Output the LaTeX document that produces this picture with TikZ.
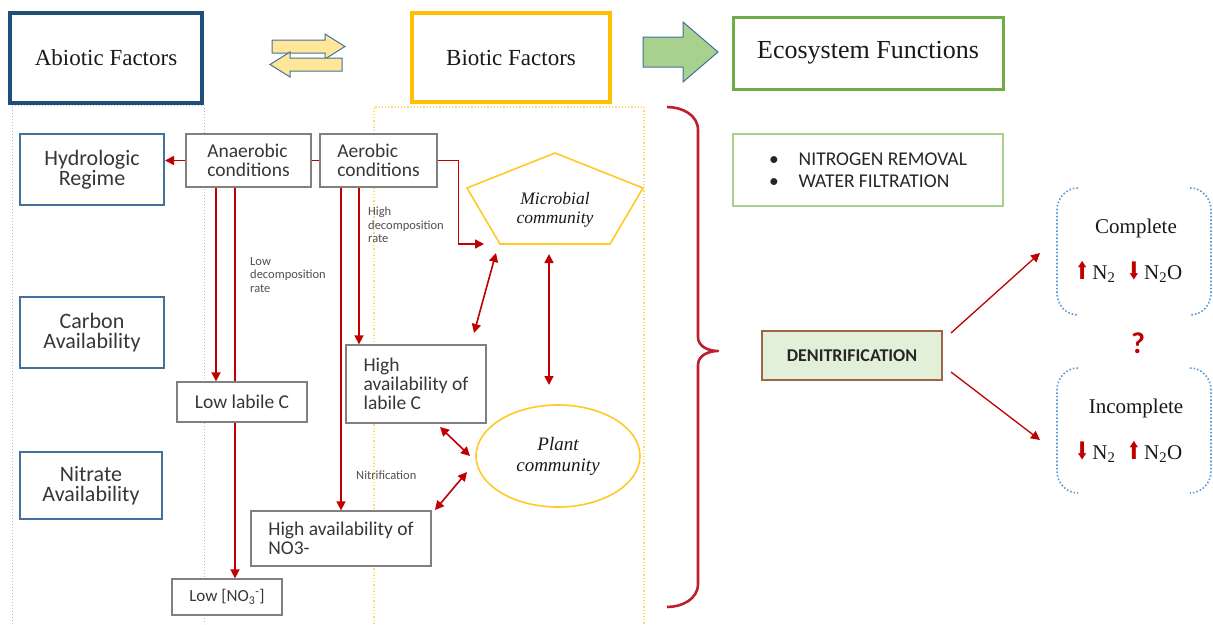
\documentclass[tikz,border=0pt]{standalone}
\usepackage{fontspec}
\newfontfamily\carlito{Carlito}
\newfontfamily\dejavu{DejaVu Sans}
\newfontfamily\headserif{Liberation Serif}
\usepackage{tikz}
\usetikzlibrary{arrows.meta,shapes.geometric}
\definecolor{cAbio}{RGB}{31, 78, 121}
\definecolor{cBio}{RGB}{255, 192, 0}
\definecolor{cEco}{RGB}{112, 173, 71}
\definecolor{cEcoLight}{RGB}{169, 209, 142}
\definecolor{cSteel}{RGB}{65, 113, 156}
\definecolor{cGrayBox}{RGB}{128, 128, 128}
\definecolor{cRed}{RGB}{192, 0, 0}
\definecolor{cBrace}{RGB}{190, 30, 45}
\definecolor{cDotBlue}{RGB}{157, 195, 230}
\definecolor{cDotYellow}{RGB}{255, 217, 102}
\definecolor{cBracket}{RGB}{91, 155, 213}
\definecolor{cArrowYellow}{RGB}{255, 230, 153}
\definecolor{cDenitFill}{RGB}{226, 240, 217}
\definecolor{cDenitDraw}{RGB}{160, 100, 70}
\definecolor{cText}{RGB}{55, 55, 55}
\definecolor{cLabel}{RGB}{80, 80, 80}
\newcommand{\gasup}{{\color{cRed}\dejavu\bfseries\scalebox{0.75}[1.15]{⬆}}}
\newcommand{\gasdown}{{\color{cRed}\dejavu\bfseries\scalebox{0.75}[1.15]{⬇}}}

\begin{document}
\begin{tikzpicture}[x=1pt, y=-1pt,
  headbox/.style={draw, line width=3.4pt, fill=white, text=black!90,
    font=\headserif\fontsize{23}{26}\selectfont},
  abiobox/.style={draw=cSteel, line width=2pt, text=cText, align=center,
    minimum width=144, minimum height=71,
    font=\carlito\fontsize{22}{20}\selectfont},
  condbox/.style={draw=cGrayBox, line width=1.3pt, fill=white, text=cText,
    align=left, font=\carlito\fontsize{19.5}{19}\selectfont},
  smalllabel/.style={anchor=north west, inner sep=0pt, text=cLabel, align=left,
    font=\carlito\fontsize{12.5}{13.5}\selectfont},
  bioshape/.style={draw=cBio!85, line width=1.6pt},
  biotext/.style={align=center, text=black!90, font=\headserif\itshape\fontsize{17.5}{19}\selectfont},
  redarrow/.style={draw=cRed, line width=1.6pt, -{Triangle[length=9pt,width=9pt]}},
  biarrow/.style={draw=cRed, line width=1.6pt,
    {Triangle[length=9pt,width=9pt]}-{Triangle[length=9pt,width=9pt]}},
  bracketline/.style={draw=cBracket, line width=1.6pt, dotted},
  outcome/.style={text=black!90, font=\headserif\fontsize{21}{24}\selectfont},
  gastext/.style={text=black!90, font=\headserif\fontsize{21}{24}\selectfont}]

  \useasboundingbox (0,0) rectangle (1213,624);

  % ---- dotted columns ----
  \draw[cDotBlue, dotted, line width=1pt] (12,624) -- (12,105) -- (204,105) -- (204,624);
  \draw[cDotYellow, dotted, line width=1.2pt] (374,624) -- (374,107) -- (644,107) -- (644,624);

  % ---- headings ----
  \node[headbox, draw=cAbio, minimum width=192, minimum height=90] (abiotic) at (106,58) {Abiotic Factors};
  \node[headbox, draw=cBio, minimum width=198, minimum height=89] (biotic) at (511,57.5) {Biotic Factors};
  \node[headbox, draw=cEco, line width=3pt, minimum width=270, minimum height=72,
    font=\headserif\fontsize{26}{28}\selectfont] (ecosys) at (868,53) {Ecosystem Functions};

  % block arrows between the headings
  \draw[cSteel, fill=cArrowYellow, line width=1pt]
    (272,40) -- (325,40) -- (325,34) -- (345,46.5) -- (325,59) -- (325,53) -- (272,53) -- cycle;
  \draw[cSteel, fill=cArrowYellow, line width=1pt]
    (342,58) -- (290,58) -- (290,52) -- (270,64.5) -- (290,77) -- (290,71) -- (342,71) -- cycle;
  \draw[cSteel, fill=cEcoLight, line width=1pt]
    (643,37) -- (683,37) -- (683,22) -- (718,52) -- (683,82) -- (683,67) -- (643,67) -- cycle;

  % ---- abiotic factors ----
  \node[abiobox] (hydro) at (92,169.5) {Hydrologic\\Regime};
  \node[abiobox] (carbon) at (92,332.5) {Carbon\\Availability};
  \node[abiobox, minimum width=142, minimum height=67] (nitrate) at (91,485.5) {Nitrate\\Availability};

  % ---- conditions and their results ----
  \node[condbox, minimum width=125, minimum height=53] (anaer) at (248.5,160.5) {Anaerobic\\conditions};
  \node[condbox, minimum width=117, minimum height=53] (aer) at (378.5,160.5) {Aerobic\\conditions};

  % long line from anaerobic passes behind low labile C
  \coordinate (anB) at ([xshift=-13.5]anaer.south);
  \node[condbox, minimum width=110, minimum height=36, font=\carlito\fontsize{17}{19}\selectfont]
    (lowno3) at (227,597) {Low [NO\textsubscript{3}\textsuperscript{-}]};
  \draw[redarrow] (anB) -- (anB |- lowno3.north);

  \node[condbox, minimum width=130, minimum height=40] (lowc) at (242,402) {Low labile C};
  \node[condbox, minimum width=140, minimum height=78] (highc) at (416,384) {High\\availability of\\labile C};
  \node[condbox, minimum width=180, minimum height=55] (highno3) at (341,538.5) {High availability of\\NO3-};

  \draw[redarrow] (anaer.west) -- (anaer.west -| hydro.east);
  \draw[draw=cRed, line width=1.6pt] (anaer.east) -- (aer.west);

  \coordinate (anA) at ([xshift=-32.5]anaer.south);
  \draw[redarrow] (anA) -- (anA |- lowc.north);
  \coordinate (aeA) at ([xshift=-37.5]aer.south);
  \draw[redarrow] (aeA) -- (aeA |- highno3.north);
  \coordinate (aeB) at ([xshift=-19.5]aer.south);
  \draw[redarrow] (aeB) -- (aeB |- highc.north);

  \node[smalllabel] (lowrate) at (250,257) {Low\\decomposition\\rate};
  \node[smalllabel] (highrate) at (368,207) {High\\decomposition\\rate};
  \node[smalllabel] (nitrif) at (356,471) {Nitrification};

  % ---- biotic factors ----
  \draw[bioshape] (555,153) -- (643,188) -- (610,244) -- (500,244) -- (467,188) -- cycle;
  \node[biotext] (microbial) at (555,210) {Microbial\\community};
  \node[bioshape, biotext, ellipse, minimum width=164, minimum height=102,
    font=\headserif\itshape\fontsize{19}{21}\selectfont] (plant) at (558,456) {Plant\\community};

  \coordinate (micIn) at (484,244);
  \draw[redarrow] (aer.east) -- ++(21,0) |- (micIn);

  \coordinate (micA) at (496,253);  \coordinate (hcA) at (474,333);
  \coordinate (micB) at (549,254);  \coordinate (plB) at (549,385);
  \coordinate (hcC) at (440,427);   \coordinate (plC) at (470,456);
  \coordinate (noD) at (435,510);   \coordinate (plD) at (467,472);
  \foreach \a/\b in {micA/hcA, micB/plB, hcC/plC, noD/plD}
    \draw[biarrow] (\a) -- (\b);

  % ---- brace ----
  \draw[cBrace, line width=2.6pt, line join=round]
    (667,107) to[out=0, in=90] (698,130) -- (698,337) to[out=-90, in=180] (718,351)
    to[out=180, in=90] (698,365) -- (698,584) to[out=-90, in=0] (667,607);

  % ---- ecosystem functions ----
  \node[draw=cEcoLight, line width=1.5pt, minimum width=270, minimum height=72, text=black!85,
    align=left, font=\carlito\fontsize{19.5}{22}\selectfont] (functions) at (868,170)
    {\textbullet\hspace{20pt}NITROGEN REMOVAL\\\textbullet\hspace{20pt}WATER FILTRATION};

  \node[draw=cDenitDraw, fill=cDenitFill, line width=2pt, minimum width=180, minimum height=49,
    text=black!85, font=\carlito\bfseries\fontsize{18}{20}\selectfont] (denit) at (852,355.5) {DENITRIFICATION};

  % complete / incomplete brackets
  \draw[bracketline] (1078,188) to[out=180, in=90] (1057,210) -- (1057,293) to[out=-90, in=180] (1078,315);
  \draw[bracketline] (1190,188) to[out=0, in=90] (1211,210) -- (1211,293) to[out=-90, in=0] (1190,315);
  \draw[bracketline] (1078,368) to[out=180, in=90] (1057,390) -- (1057,471) to[out=-90, in=180] (1078,493);
  \draw[bracketline] (1190,368) to[out=0, in=90] (1211,390) -- (1211,471) to[out=-90, in=0] (1190,493);

  \node[outcome] (complete) at (1136,228) {Complete};
  \node[gastext] (compgas) at (1129,272) {\gasup\,N\textsubscript{2}\hspace{12pt}\gasdown\,N\textsubscript{2}O};
  \node[text=cRed, font=\carlito\bfseries\fontsize{30}{32}\selectfont] (qmark) at (1138,343) {?};
  \node[outcome] (incomplete) at (1136,408) {Incomplete};
  \node[gastext] (incgas) at (1129,452) {\gasdown\,N\textsubscript{2}\hspace{12pt}\gasup\,N\textsubscript{2}O};

  \coordinate (dnA) at (951,333);  \coordinate (cpA) at (1040,253);
  \coordinate (dnB) at (951,372);  \coordinate (icB) at (1040,440);
  \draw[redarrow, line width=1.3pt] (dnA) -- (cpA);
  \draw[redarrow, line width=1.3pt] (dnB) -- (icB);

\end{tikzpicture}
\end{document}
